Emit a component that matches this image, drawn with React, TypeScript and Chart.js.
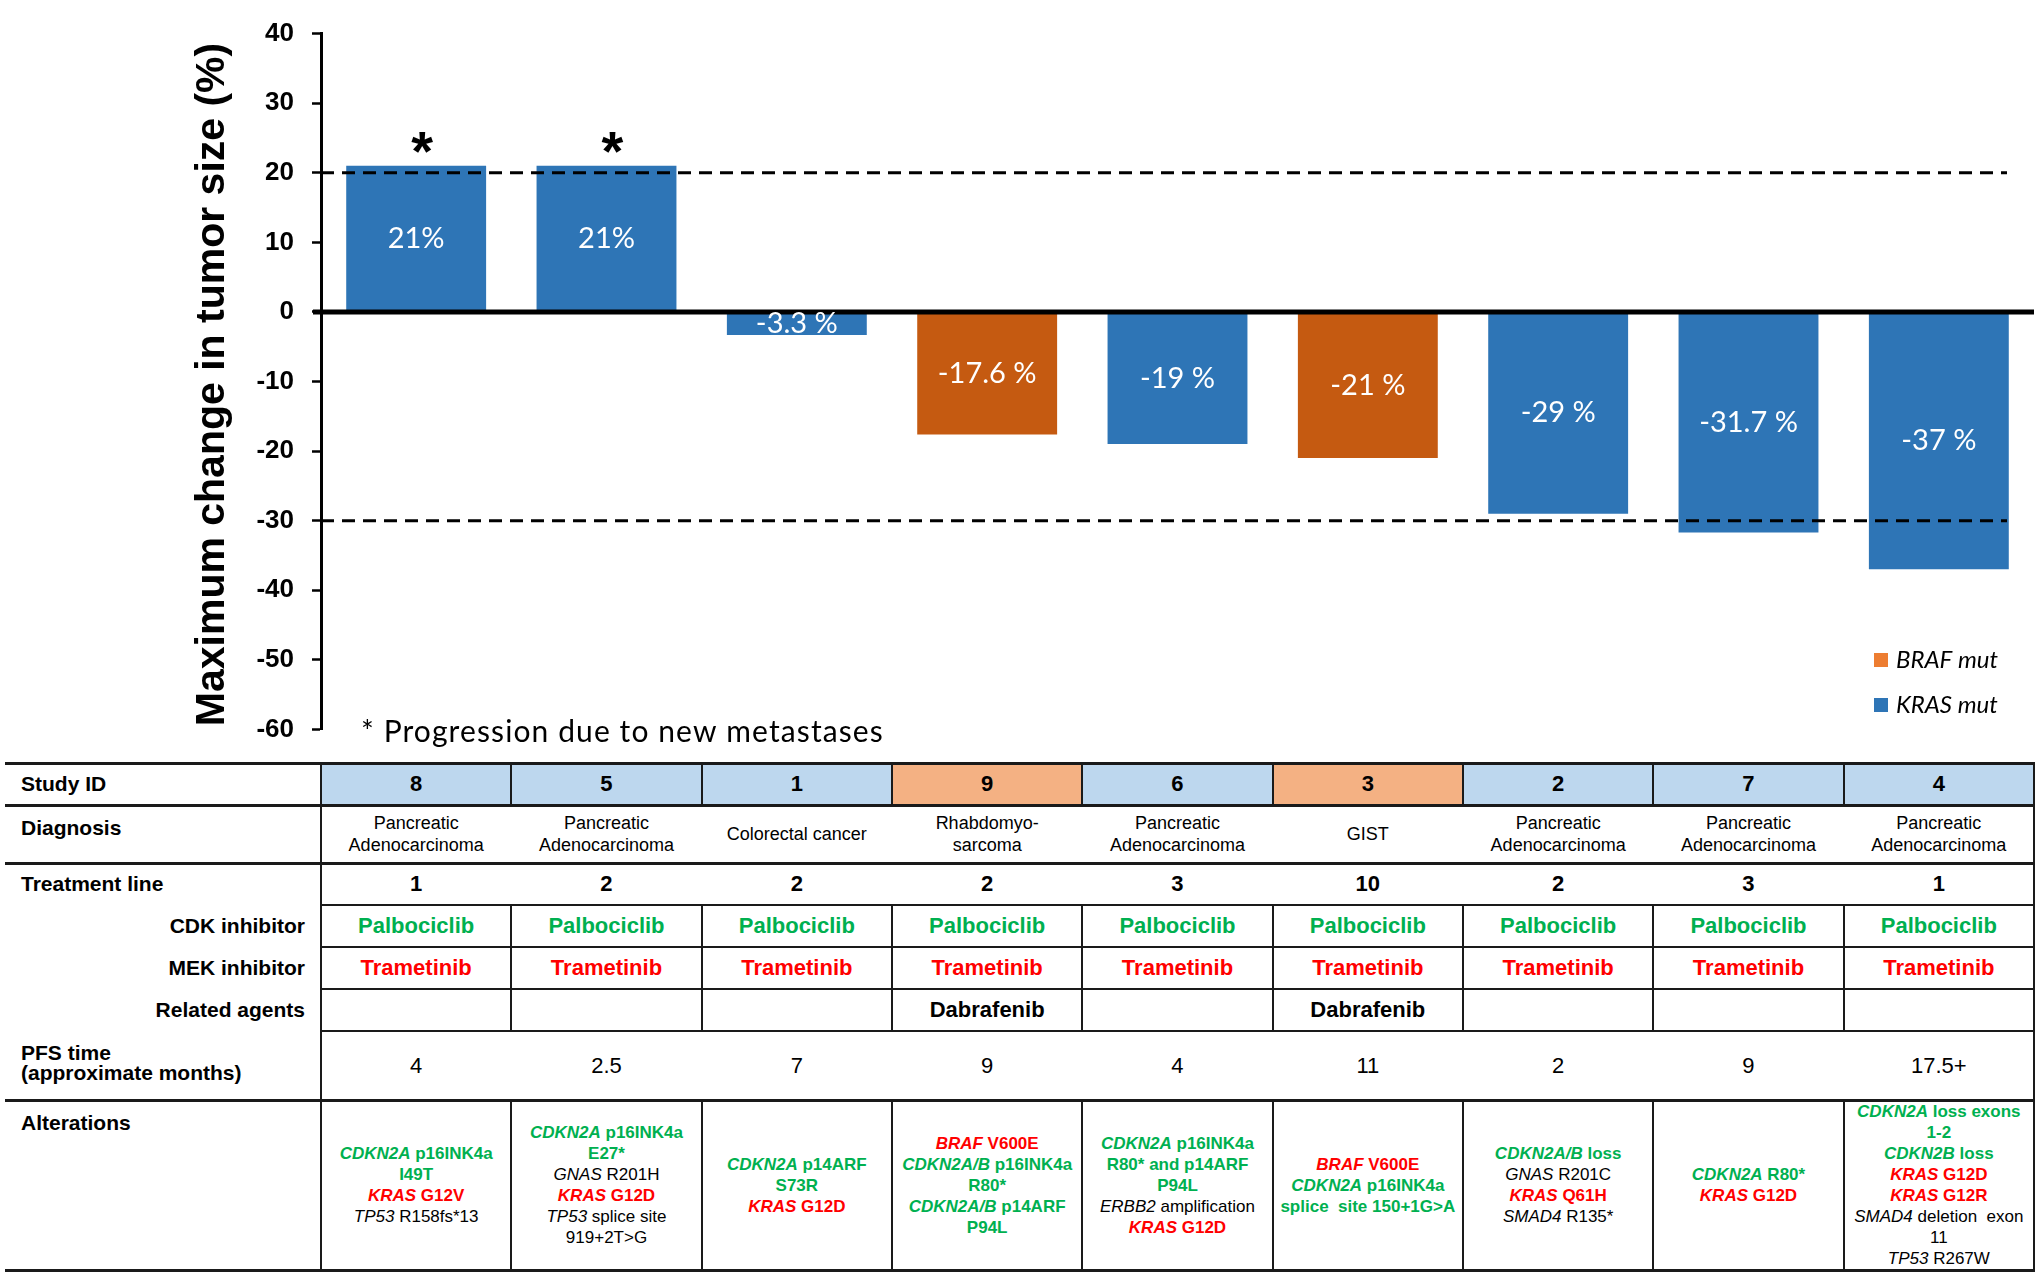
import React, { useEffect, useRef } from "react";
import { Chart, registerables } from "chart.js";

Chart.register(...registerables);

const FONT = '"Liberation Sans", Arial, Helvetica, sans-serif';
const CAL = 'Lato, "Open Sans", sans-serif';

// ---------- data ----------
const studyIds = ["8", "5", "1", "9", "6", "3", "2", "7", "4"];
const changeValues = [21, 21, -3.3, -17.6, -19, -21, -29, -31.7, -37];
const valueLabels = ["21%", "21%", "-3.3 %", "-17.6 %", "-19 %", "-21 %", "-29 %", "-31.7 %", "-37 %"];
const mutationType = ["KRAS", "KRAS", "KRAS", "BRAF", "KRAS", "BRAF", "KRAS", "KRAS", "KRAS"];
const progression = [true, true, false, false, false, false, false, false, false];
const thresholdLines = [20, -30];
const yMin = -60;
const yMax = 40;
const yStep = 10;
const legendItems = ["BRAF mut", "KRAS mut"];
const yTitle = "Maximum change in tumor size (%)";
const footnote = "* Progression due to new metastases";

const diagnoses = [
  ["Pancreatic", "Adenocarcinoma"],
  ["Pancreatic", "Adenocarcinoma"],
  ["Colorectal cancer"],
  ["Rhabdomyo-", "sarcoma"],
  ["Pancreatic", "Adenocarcinoma"],
  ["GIST"],
  ["Pancreatic", "Adenocarcinoma"],
  ["Pancreatic", "Adenocarcinoma"],
  ["Pancreatic", "Adenocarcinoma"],
];
const treatmentLines = ["1", "2", "2", "2", "3", "10", "2", "3", "1"];
const cdkInhibitors = ["Palbociclib", "Palbociclib", "Palbociclib", "Palbociclib", "Palbociclib", "Palbociclib", "Palbociclib", "Palbociclib", "Palbociclib"];
const mekInhibitors = ["Trametinib", "Trametinib", "Trametinib", "Trametinib", "Trametinib", "Trametinib", "Trametinib", "Trametinib", "Trametinib"];
const relatedAgents = ["", "", "", "Dabrafenib", "", "Dabrafenib", "", "", ""];
const pfsTimes = ["4", "2.5", "7", "9", "4", "11", "2", "9", "17.5+"];
// g = green bold, r = red bold, k = black regular; _x_ = italic
const alterations = [
  ["g:_CDKN2A_ p16INK4a", "g:I49T", "r:_KRAS_ G12V", "k:_TP53_ R158fs*13"],
  ["g:_CDKN2A_ p16INK4a", "g:E27*", "k:_GNAS_ R201H", "r:_KRAS_ G12D", "k:_TP53_ splice site", "k:919+2T>G"],
  ["g:_CDKN2A_ p14ARF", "g:S73R", "r:_KRAS_ G12D"],
  ["r:_BRAF_ V600E", "g:_CDKN2A/B_ p16INK4a", "g:R80*", "g:_CDKN2A/B_ p14ARF", "g:P94L"],
  ["g:_CDKN2A_ p16INK4a", "g:R80* and p14ARF", "g:P94L", "k:_ERBB2_ amplification", "r:_KRAS_ G12D"],
  ["r:_BRAF_ V600E", "g:_CDKN2A_ p16INK4a", "g:splice  site 150+1G>A"],
  ["g:_CDKN2A/B_ loss", "k:_GNAS_ R201C", "r:_KRAS_ Q61H", "k:_SMAD4_ R135*"],
  ["g:_CDKN2A_ R80*", "r:_KRAS_ G12D"],
  ["g:_CDKN2A_ loss exons", "g:1-2", "g:_CDKN2B_ loss", "r:_KRAS_ G12D", "r:_KRAS_ G12R", "k:_SMAD4_ deletion  exon", "k:11", "k:_TP53_ R267W"],
];

// ---------- styles ----------
const BLUE = "#2E75B6";
const ORANGE_BAR = "#C55A11";
const ORANGE_LEG = "#ED7D31";
const HEAD_BLUE = "#BDD7EE";
const HEAD_ORANGE = "#F4B183";
const GREEN = "#00B050";
const RED = "#FF0000";
const LINE = "#1a1a1a";

const CANVAS_W = 2040;
const CANVAS_H = 763;
const COL_X0 = 321;
const TABLE_L = 5;
const TABLE_R = 2034;
const COL_W = (TABLE_R - COL_X0) / 9;
const ROWS = [763, 805, 863, 905, 947, 989, 1031, 1100, 1270];

const overlay = {
  id: "overlay",
  afterDatasetsDraw(chart: any) {
    const { ctx, chartArea, scales } = chart;
    const y = scales.y;
    const meta = chart.getDatasetMeta(0);
    ctx.save();
    // zero line
    const y0 = y.getPixelForValue(0);
    ctx.strokeStyle = "#000";
    ctx.lineWidth = 5;
    ctx.beginPath();
    ctx.moveTo(chartArea.left - 8, y0);
    ctx.lineTo(chartArea.right, y0);
    ctx.stroke();
    // threshold dashed lines
    ctx.setLineDash([13, 8]);
    ctx.lineWidth = 3;
    thresholdLines.forEach((v) => {
      const yy = y.getPixelForValue(v);
      ctx.beginPath();
      ctx.moveTo(chartArea.left, yy);
      ctx.lineTo(chartArea.right - 27, yy);
      ctx.stroke();
    });
    ctx.setLineDash([]);
    // value labels
    ctx.fillStyle = "#fff";
    ctx.font = `29px ${CAL}`;
    ctx.textAlign = "center";
    ctx.textBaseline = "middle";
    meta.data.forEach((bar: any, i: number) => {
      const p = bar.getProps(["x", "y", "base"], true);
      ctx.fillText(valueLabels[i], p.x, (p.y + p.base) / 2);
    });
    // asterisks
    ctx.fillStyle = "#000";
    ctx.font = `bold 56px ${FONT}`;
    ctx.textBaseline = "alphabetic";
    meta.data.forEach((bar: any, i: number) => {
      if (!progression[i]) return;
      const p = bar.getProps(["x", "y"], true);
      ctx.fillText("*", p.x + 6, p.y + 4);
    });
    ctx.restore();
  },
  afterDraw(chart: any) {
    const { ctx, chartArea } = chart;
    ctx.save();
    // y title
    ctx.translate(213, (chartArea.top + chartArea.bottom) / 2 + 3);
    ctx.rotate(-Math.PI / 2);
    ctx.fillStyle = "#000";
    ctx.font = `bold 41px ${FONT}`;
    ctx.textAlign = "center";
    ctx.textBaseline = "middle";
    ctx.fillText(yTitle, 0, 0);
    ctx.restore();

    ctx.save();
    // footnote
    ctx.fillStyle = "#000";
    ctx.font = `30px ${CAL}`;
    try {
      (ctx as any).letterSpacing = "1.1px";
    } catch (e) {}
    ctx.textAlign = "left";
    ctx.textBaseline = "middle";
    ctx.fillText(footnote, 361, 732);
    try {
      (ctx as any).letterSpacing = "0px";
    } catch (e) {}
    // legend
    const legColors = [ORANGE_LEG, BLUE];
    legendItems.forEach((t, i) => {
      const cy = 660 + i * 45;
      ctx.fillStyle = legColors[i];
      ctx.fillRect(1874, cy - 7, 14, 14);
      ctx.fillStyle = "#000";
      ctx.font = `italic 24px ${CAL}`;
      ctx.fillText(t, 1896, cy);
    });
    ctx.restore();
  },
};

function ChartCanvas() {
  const ref = useRef<HTMLCanvasElement | null>(null);
  useEffect(() => {
    if (!ref.current) return;
    const chart = new Chart(ref.current, {
      type: "bar",
      data: {
        labels: studyIds,
        datasets: [
          {
            data: changeValues,
            backgroundColor: mutationType.map((m) => (m === "BRAF" ? ORANGE_BAR : BLUE)),
            borderWidth: 0,
            barPercentage: 0.735,
            categoryPercentage: 1,
          },
        ],
      },
      options: {
        responsive: false,
        animation: false,
        devicePixelRatio: 1,
        layout: { padding: { left: 0, right: CANVAS_W - TABLE_R, top: 17, bottom: CANVAS_H - 745 } },
        plugins: { legend: { display: false }, tooltip: { enabled: false } },
        scales: {
          x: { display: false },
          y: {
            min: yMin,
            max: yMax,
            ticks: {
              stepSize: yStep,
              padding: 18,
              color: "#000",
              font: { family: FONT, weight: "bold", size: 26 },
            },
            grid: {
              drawOnChartArea: false,
              drawTicks: true,
              tickLength: 9,
              tickColor: "#000",
              tickWidth: 2.5,
            },
            border: { display: true, color: "#000", width: 3 },
            afterFit: (s: any) => {
              s.width = COL_X0;
            },
          },
        },
      } as any,
      plugins: [overlay],
    });
    return () => chart.destroy();
  }, []);
  return (
    <canvas
      ref={ref}
      width={CANVAS_W}
      height={CANVAS_H}
      style={{ position: "absolute", left: 0, top: 0, width: CANVAS_W, height: CANVAS_H }}
    />
  );
}

function renderAltLine(line: string, key: number) {
  const code = line[0];
  const body = line.slice(2);
  const color = code === "g" ? GREEN : code === "r" ? RED : "#000";
  const bold = code !== "k";
  const parts = body.split("_");
  return (
    <div key={key} style={{ color, fontWeight: bold ? "bold" : "normal", whiteSpace: "pre" }}>
      {parts.map((p, j) => (j % 2 === 1 ? <i key={j}>{p}</i> : <span key={j}>{p}</span>))}
    </div>
  );
}

function Table() {
  const els: any[] = [];
  let k = 0;
  const colX = (i: number) => COL_X0 + i * COL_W;
  const hLine = (y: number, x1: number, x2: number, t: number) =>
    els.push(
      <div key={k++} style={{ position: "absolute", left: x1, top: y - t / 2, width: x2 - x1, height: t, background: LINE }} />
    );
  const vLine = (x: number, y1: number, y2: number, t: number) =>
    els.push(
      <div key={k++} style={{ position: "absolute", left: x - t / 2, top: y1, width: t, height: y2 - y1, background: LINE }} />
    );
  const block = (left: number, width: number, top: number, bottom: number, content: any, style: any, align = "center") =>
    els.push(
      <div
        key={k++}
        style={{
          position: "absolute",
          left,
          width,
          top,
          height: bottom - top,
          display: "flex",
          flexDirection: "column",
          justifyContent: "center",
          alignItems: align === "left" ? "flex-start" : align === "right" ? "flex-end" : "center",
          textAlign: align as any,
          whiteSpace: "nowrap",
          ...style,
        }}
      >
        {content}
      </div>
    );

  // header fills
  studyIds.forEach((_, i) => {
    els.push(
      <div
        key={k++}
        style={{
          position: "absolute",
          left: colX(i),
          top: ROWS[0],
          width: COL_W,
          height: ROWS[1] - ROWS[0],
          background: mutationType[i] === "BRAF" ? HEAD_ORANGE : HEAD_BLUE,
        }}
      />
    );
  });

  // row labels
  const labelBold = { fontWeight: "bold", fontSize: 21, color: "#000" };
  block(21, 280, ROWS[0], ROWS[1], "Study ID", labelBold, "left");
  block(21, 280, 815, 840, "Diagnosis", labelBold, "left");
  block(21, 280, ROWS[2], ROWS[3], "Treatment line", labelBold, "left");
  block(20, 285, ROWS[3], ROWS[4], "CDK inhibitor", labelBold, "right");
  block(20, 285, ROWS[4], ROWS[5], "MEK inhibitor", labelBold, "right");
  block(20, 285, ROWS[5], ROWS[6], "Related agents", labelBold, "right");
  block(21, 290, 1041, 1085, [<div key="a">PFS time</div>, <div key="b">(approximate months)</div>], { ...labelBold, lineHeight: "20px" }, "left");
  block(21, 280, 1110, 1135, "Alterations", labelBold, "left");

  // cells
  studyIds.forEach((id, i) => {
    const x = colX(i);
    block(x, COL_W, ROWS[0], ROWS[1], id, { fontWeight: "bold", fontSize: 22, color: "#000" });
    block(
      x,
      COL_W,
      ROWS[1],
      ROWS[2],
      diagnoses[i].map((d, j) => <div key={j}>{d}</div>),
      { fontSize: 18, lineHeight: "22px", color: "#000" }
    );
    block(x, COL_W, ROWS[2], ROWS[3], treatmentLines[i], { fontWeight: "bold", fontSize: 22, color: "#000" });
    block(x, COL_W, ROWS[3], ROWS[4], cdkInhibitors[i], { fontWeight: "bold", fontSize: 22, color: GREEN });
    block(x, COL_W, ROWS[4], ROWS[5], mekInhibitors[i], { fontWeight: "bold", fontSize: 22, color: RED });
    block(x, COL_W, ROWS[5], ROWS[6], relatedAgents[i], { fontWeight: "bold", fontSize: 22, color: "#000" });
    block(x, COL_W, ROWS[6], ROWS[7], pfsTimes[i], { fontSize: 22, color: "#000" });
    block(
      x,
      COL_W,
      ROWS[7],
      ROWS[8],
      alterations[i].map((l, j) => renderAltLine(l, j)),
      { fontSize: 17, lineHeight: "21px" }
    );
  });

  // horizontal lines
  hLine(ROWS[0], TABLE_L, TABLE_R + 1, 3);
  hLine(ROWS[1], TABLE_L, TABLE_R + 1, 3);
  hLine(ROWS[2], TABLE_L, TABLE_R + 1, 3);
  hLine(ROWS[3], COL_X0, TABLE_R + 1, 2);
  hLine(ROWS[4], COL_X0, TABLE_R + 1, 2);
  hLine(ROWS[5], COL_X0, TABLE_R + 1, 2);
  hLine(ROWS[6], COL_X0, TABLE_R + 1, 2);
  hLine(ROWS[7], TABLE_L, TABLE_R + 1, 3);
  hLine(ROWS[8], TABLE_L, TABLE_R + 1, 3);
  // vertical lines
  vLine(COL_X0, ROWS[0], ROWS[8], 2);
  vLine(TABLE_R, ROWS[0], ROWS[8], 2);
  for (let i = 1; i < 9; i++) {
    const x = colX(i);
    vLine(x, ROWS[0], ROWS[1], 2);
    vLine(x, ROWS[3], ROWS[6], 2);
    vLine(x, ROWS[7], ROWS[8], 2);
  }
  return <>{els}</>;
}

export default function App() {
  return (
    <div
      style={{
        position: "absolute",
        left: 0,
        top: 0,
        width: 2040,
        height: 1275,
        background: "#fff",
        fontFamily: FONT,
        overflow: "hidden",
      }}
    >
      <ChartCanvas />
      <Table />
    </div>
  );
}
